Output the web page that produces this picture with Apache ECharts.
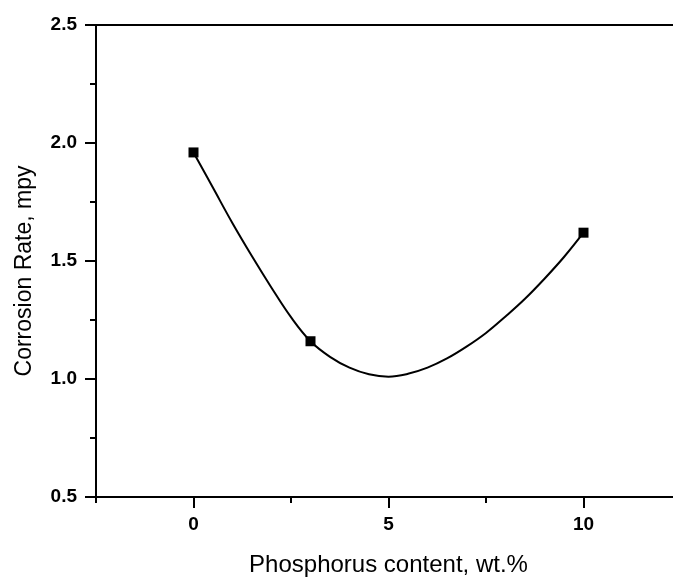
<!DOCTYPE html>
<html>
<head>
<meta charset="utf-8">
<script src="https://cdn.jsdelivr.net/npm/echarts@6/dist/echarts.min.js"></script>
<style>
  html, body { margin: 0; padding: 0; background: #fff; overflow: hidden; }
  #chart { width: 673px; height: 578px; }
</style>
</head>
<body>
<div id="chart"></div>
<script>
// measured points
const phosphorus = [0, 3, 10]
const corrosionRate = [1.96, 1.16, 1.62]
// fitted curve
const curveX = [0, 0.5, 1, 1.5, 2, 2.5, 3, 3.5, 4, 4.5, 5, 5.5, 6, 6.5, 7, 7.5, 8, 8.5, 9, 9.5, 10]
const curveY = [1.96, 1.81, 1.66, 1.52, 1.387, 1.262, 1.16, 1.094, 1.048, 1.02, 1.01, 1.022, 1.048, 1.087, 1.137, 1.195, 1.265, 1.34, 1.425, 1.517, 1.62]
// ticks
const xMajorTicks = [0, 5, 10]
const xMinorTicks = [-2.5, 2.5, 7.5, 12.5]

const chart = echarts.init(document.getElementById("chart"), null, { renderer: "canvas" })

const points = phosphorus.map((x, i) => [x, corrosionRate[i]])
const curve = curveX.map((x, i) => [x, curveY[i]])

const axisFont = "'Liberation Sans', Arial, sans-serif"

const option = {
  animation: false,
  backgroundColor: "#fff",
  grid: {
    left: 96,
    top: 25,
    width: 585,
    bottom: 81,
    containLabel: false,
    outerBoundsMode: "none"
  },
  xAxis: [
    {
      type: "value",
      min: -2.5,
      max: 12.5,
      name: "Phosphorus content, wt.%",
      nameLocation: "middle",
      nameGap: 56,
      nameTextStyle: { fontFamily: axisFont, fontSize: 24, color: "#000" },
      axisLine: { show: true, onZero: false, lineStyle: { color: "#000", width: 2 } },
      axisTick: { show: true, length: 11, customValues: xMajorTicks, lineStyle: { color: "#000", width: 2 } },
      axisLabel: {
        customValues: xMajorTicks,
        margin: 18,
        fontFamily: axisFont,
        fontWeight: "bold",
        fontSize: 19,
        color: "#000"
      },
      splitLine: { show: false }
    },
    {
      // minor ticks on the bottom axis
      type: "value",
      position: "bottom",
      min: -2.5,
      max: 12.5,
      axisLine: { show: false },
      axisTick: { show: true, length: 6, customValues: xMinorTicks, lineStyle: { color: "#000", width: 2 } },
      axisLabel: { show: false },
      splitLine: { show: false }
    },
    {
      // top frame line
      type: "value",
      position: "top",
      min: -2.5,
      max: 12.5,
      axisLine: { show: true, lineStyle: { color: "#000", width: 2 } },
      axisTick: { show: false },
      axisLabel: { show: false },
      splitLine: { show: false }
    }
  ],
  yAxis: {
    type: "value",
    min: 0.5,
    max: 2.5,
    interval: 0.5,
    name: "Corrosion Rate, mpy",
    nameLocation: "middle",
    nameGap: 60,
    nameTextStyle: { fontFamily: axisFont, fontSize: 23, color: "#000", padding: [0, 20, 0, 0] },
    axisLine: { show: true, onZero: false, lineStyle: { color: "#000", width: 2 } },
    axisTick: { show: true, length: 11, lineStyle: { color: "#000", width: 2 } },
    minorTick: { show: true, splitNumber: 2, length: 6, lineStyle: { color: "#000", width: 2 } },
    axisLabel: {
      margin: 19,
      fontFamily: axisFont,
      fontWeight: "bold",
      fontSize: 19,
      color: "#000",
      formatter: (v) => v.toFixed(1)
    },
    splitLine: { show: false },
    minorSplitLine: { show: false }
  },
  series: [
    {
      type: "line",
      data: curve,
      smooth: 0.4,
      showSymbol: false,
      lineStyle: { color: "#000", width: 2 }
    },
    {
      // white gap round each marker, as in the original plot
      type: "scatter",
      data: points,
      symbol: "rect",
      symbolSize: 18,
      itemStyle: { color: "#fff", opacity: 1 }
    },
    {
      type: "scatter",
      data: points,
      symbol: "rect",
      symbolSize: 10,
      itemStyle: { color: "#000", opacity: 1 }
    }
  ]
}

chart.setOption(option)
</script>
</body>
</html>
